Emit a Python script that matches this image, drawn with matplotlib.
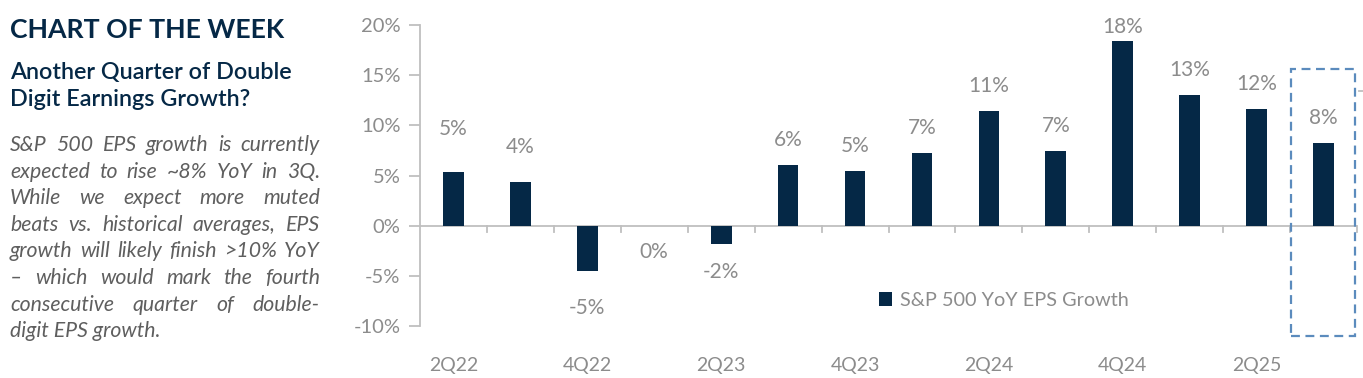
import matplotlib
matplotlib.use("Agg")
import matplotlib.pyplot as plt
from matplotlib.patches import Rectangle

# ---- data ----
quarters = ["2Q22", "3Q22", "4Q22", "1Q23", "2Q23", "3Q23", "4Q23",
            "1Q24", "2Q24", "3Q24", "4Q24", "1Q25", "2Q25", "3Q25"]
eps_growth = [5.3, 4.4, -4.5, 0.0, -1.8, 6.0, 5.4,
              7.2, 11.4, 7.4, 18.4, 13.0, 11.6, 8.2]
value_labels = ["5%", "4%", "-5%", "0%", "-2%", "6%", "5%",
                "7%", "11%", "7%", "18%", "13%", "12%", "8%"]
tick_labels = ["2Q22", "", "4Q22", "", "2Q23", "", "4Q23",
               "", "2Q24", "", "4Q24", "", "2Q25", ""]
series_name = "S&P 500 YoY EPS Growth"
y_ticks = [-10, -5, 0, 5, 10, 15, 20]

title = "CHART OF THE WEEK"
subtitle = ["Another Quarter of Double", "Digit Earnings Growth?"]
body_lines = [
    "S&P 500 EPS growth is currently",
    "expected to rise ~8% YoY in 3Q.",
    "While we expect more muted",
    "beats vs. historical averages, EPS",
    "growth will likely finish >10% YoY",
    "\u2013 which would mark the fourth",
    "consecutive quarter of double-",
    "digit EPS growth.",
]

# ---- style ----
NAVY = "#052846"
GREY_TXT = "#8c8c8c"
AXIS_GREY = "#bfbfbf"
BODY_GREY = "#5f5f5f"
FONT = ["Lato", "DejaVu Sans"]
plt.rcParams["font.family"] = FONT

W, H = 1363, 378
fig = plt.figure(figsize=(W / 100, H / 100), dpi=100)

ax_left, ax_right = 420, 1357
ax_top, ax_bot = 25, 326
ax = fig.add_axes([ax_left / W, 1 - ax_bot / H, (ax_right - ax_left) / W, (ax_bot - ax_top) / H])

x = list(range(len(quarters)))
ax.bar(x, eps_growth, width=0.31, color=NAVY, label=series_name, zorder=3)
ax.set_xlim(-0.5, len(quarters) - 0.5)
ax.set_ylim(-10, 20)

for s in ["top", "right", "bottom"]:
    ax.spines[s].set_visible(False)
ax.spines["left"].set_color(AXIS_GREY)
ax.spines["left"].set_linewidth(1.3)
ax.axhline(0, color=AXIS_GREY, lw=1.3, zorder=2)

ax.set_yticks(y_ticks)
ax.set_yticklabels([f"{v}%" for v in y_ticks])
ax.tick_params(axis="y", direction="out", length=8, width=1.3, color=AXIS_GREY,
               labelcolor=GREY_TXT, labelsize=14.5, pad=6)
ax.set_xticks(x)
ax.set_xticklabels(tick_labels)
ax.tick_params(axis="x", length=0, labelcolor=GREY_TXT, labelsize=14, pad=22)

for b in range(1, len(quarters) + 1):
    ax.plot([b - 0.5, b - 0.5], [0, -0.6], color=AXIS_GREY, lw=1.3, zorder=2, clip_on=False)

default_off = 25
special_off = {0: 43, 1: 35, 2: 37, 3: 26, 4: 28, 10: 14}
for i, (v, lab) in enumerate(zip(eps_growth, value_labels)):
    off = special_off.get(i, default_off)
    sign = 1 if v > 0 else -1
    ax.annotate(lab, (i, v), xytext=(0, sign * off), textcoords="offset pixels",
                ha="center", va="center", color=GREY_TXT, fontsize=15)

ax.add_patch(Rectangle((len(quarters) - 1.49, -10.95), 0.96, 26.55, fill=False,
                       ls=(0, (4, 2.5)), lw=1.6, edgecolor="#5b8bbd",
                       clip_on=False, zorder=4))
# faint marker right of box
fig.add_artist(plt.Line2D([1359 / W, 1363 / W], [1 - 91 / H, 1 - 91 / H], color=AXIS_GREY, lw=1.3))

leg = ax.legend(loc="center left", bbox_to_anchor=((879 - ax_left) / (ax_right - ax_left),
                (ax_bot - 300) / (ax_bot - ax_top)),
                frameon=False, fontsize=14.3, handlelength=0.65, handleheight=0.7,
                handletextpad=0.4, borderaxespad=0, borderpad=0)
for t in leg.get_texts():
    t.set_color(GREY_TXT)

# ---- left text panel ----
fig.text(10 / W, 1 - 30 / H, title, fontsize=19.2, fontweight="bold", color=NAVY,
         va="center", ha="left")
for k, line in enumerate(subtitle):
    fig.text(10 / W, 1 - (73 + 27 * k) / H, line, fontsize=16.8, fontweight="semibold",
             color=NAVY, va="center", ha="left")

fig.canvas.draw()
renderer = fig.canvas.get_renderer()
x0, x1 = 10, 320
bsize = 15.3
for k, line in enumerate(body_lines):
    yc = 1 - (145 + 26.6 * k) / H
    words = line.split(" ")
    if k == len(body_lines) - 1:
        fig.text(x0 / W, yc, line, fontsize=bsize, style="italic", color=BODY_GREY,
                 va="center", ha="left")
        continue
    txts = [fig.text(0, yc, w_, fontsize=bsize, style="italic", color=BODY_GREY,
                     va="center", ha="left") for w_ in words]
    widths = [t.get_window_extent(renderer).width for t in txts]
    gap = (x1 - x0 - sum(widths)) / max(len(words) - 1, 1)
    cur = x0
    for t, wd in zip(txts, widths):
        t.set_x(cur / W)
        cur += wd + gap

fig.savefig("out.png", dpi=100)
